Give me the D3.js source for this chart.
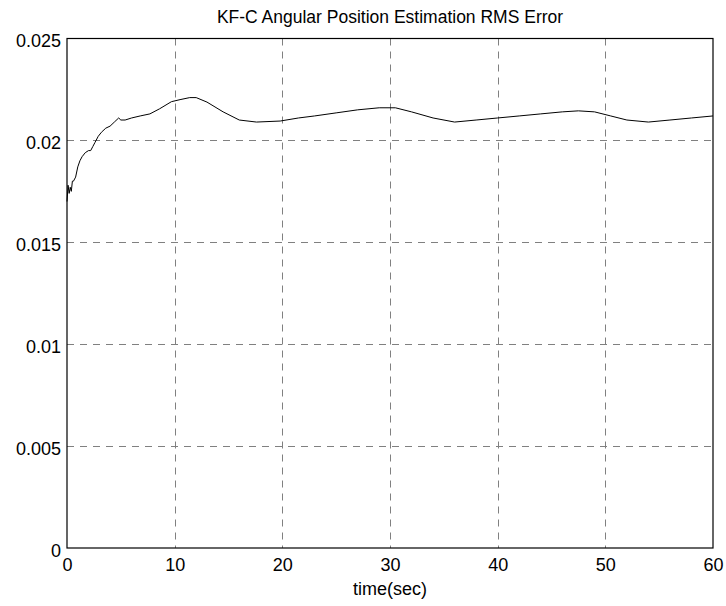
<!DOCTYPE html>
<html>
<head>
<meta charset="utf-8">
<script src="https://cdn.jsdelivr.net/npm/d3@7"></script>
<style>
  html, body { margin: 0; padding: 0; background: #fff; }
  svg text { font-family: "Liberation Sans", Arial, Helvetica, sans-serif; fill: #000; }
</style>
</head>
<body>
<svg id="chart" width="726" height="606"></svg>
<script>
const titleText = "KF-C Angular Position Estimation RMS Error";
const xLabelText = "time(sec)";
const xTicks = [0, 10, 20, 30, 40, 50, 60];
const xTickLabels = ["0", "10", "20", "30", "40", "50", "60"];
const yTicks = [0, 0.005, 0.01, 0.015, 0.02, 0.025];
const yTickLabels = ["0", "0.005", "0.01", "0.015", "0.02", "0.025"];

const timeSec = [0, 0.1, 0.2, 0.3, 0.4, 0.5, 0.6, 0.8, 1.0, 1.2, 1.4, 1.7, 2.0, 2.2, 2.4, 2.6, 2.9, 3.2, 3.6, 4.0, 4.4, 4.8, 5.0, 5.4, 6.0, 6.8, 7.7, 8.6, 9.7, 10.5, 11.4, 12.0, 13.0, 14.5, 16.0, 17.6, 19.8, 21.5, 23, 25, 27, 29, 30.5, 32, 34, 36, 38, 40, 42, 44, 46, 47.5, 49, 50.5, 52, 54, 56, 58, 60];
const rmsError = [0.0170, 0.0178, 0.0174, 0.0177, 0.0175, 0.0180, 0.0180, 0.0182, 0.0187, 0.0190, 0.0192, 0.0194, 0.0195, 0.0195, 0.0197, 0.0199, 0.0202, 0.0204, 0.0206, 0.0207, 0.0209, 0.0211, 0.0210, 0.0210, 0.0211, 0.0212, 0.0213, 0.02155, 0.0219, 0.0220, 0.0221, 0.0221, 0.02188, 0.0214, 0.0210, 0.0209, 0.02095, 0.0211, 0.0212, 0.02135, 0.0215, 0.0216, 0.0216, 0.0214, 0.0211, 0.0209, 0.0210, 0.0211, 0.0212, 0.0213, 0.0214, 0.02145, 0.0214, 0.0212, 0.0210, 0.0209, 0.0210, 0.0211, 0.0212];

const margin = { left: 67, right: 13, top: 38.5, bottom: 58 };
const W = 726, H = 606;
const svg = d3.select("#chart");

const x = d3.scaleLinear().domain([0, 60]).range([margin.left, W - margin.right]);
const y = d3.scaleLinear().domain([0, 0.025]).range([H - margin.bottom, margin.top]);

// grid
const grid = svg.append("g").attr("stroke", "#808080").attr("stroke-width", 1).attr("stroke-dasharray", "7,6");
grid.selectAll("line.gx").data(xTicks.slice(1, -1)).enter().append("line")
  .attr("x1", d => Math.round(x(d)) + 0.5).attr("x2", d => Math.round(x(d)) + 0.5)
  .attr("y1", y(0.025)).attr("y2", y(0));
grid.selectAll("line.gy").data(yTicks.slice(1, -1)).enter().append("line")
  .attr("x1", x(0)).attr("x2", x(60))
  .attr("y1", d => Math.round(y(d)) + 0.5).attr("y2", d => Math.round(y(d)) + 0.5);

// data line
const pts = timeSec.map((t, i) => [t, rmsError[i]]);
svg.append("path").datum(pts)
  .attr("fill", "none").attr("stroke", "#000").attr("stroke-width", 1)
  .attr("d", d3.line().x(d => x(d[0])).y(d => y(d[1])));

// axes box
svg.append("rect")
  .attr("x", x(0)).attr("y", y(0.025))
  .attr("width", x(60) - x(0)).attr("height", y(0) - y(0.025))
  .attr("fill", "none").attr("stroke", "#000").attr("stroke-width", 1.2);

// axes
const xAxis = d3.axisBottom(x).tickValues(xTicks).tickFormat((d, i) => xTickLabels[i]).tickSize(0).tickPadding(10);
svg.append("g").attr("transform", `translate(0,${y(0)})`).call(xAxis)
  .call(g => g.select(".domain").remove())
  .selectAll("text").style("font-size", "18px");

const yAxis = d3.axisLeft(y).tickValues(yTicks).tickFormat((d, i) => yTickLabels[i]).tickSize(0).tickPadding(6);
svg.append("g").attr("transform", `translate(${x(0)},0)`).call(yAxis)
  .call(g => g.select(".domain").remove())
  .selectAll("text").style("font-size", "18px").attr("dy", "0.45em");

// title and label
svg.append("text").attr("x", (x(0) + x(60)) / 2).attr("y", 23)
  .attr("text-anchor", "middle").style("font-size", "17.5px").text(titleText);
svg.append("text").attr("x", (x(0) + x(60)) / 2).attr("y", 595)
  .attr("text-anchor", "middle").style("font-size", "18px").text(xLabelText);
</script>
</body>
</html>
